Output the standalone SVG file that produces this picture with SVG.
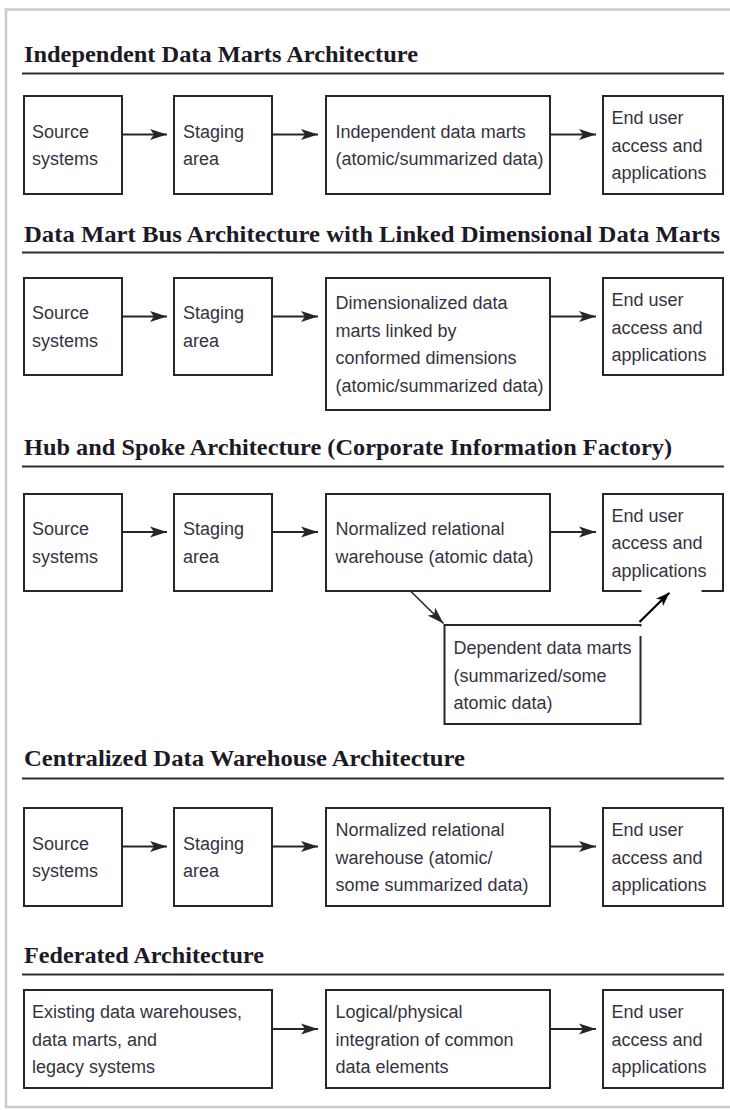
<svg xmlns="http://www.w3.org/2000/svg" width="730" height="1110" viewBox="0 0 730 1110">
<defs>
<style>
.title{font-family:"Liberation Serif","Times New Roman",serif;font-weight:bold;font-size:23px;fill:#1c1a26}
.rule{stroke:#2e2e2e;stroke-width:2}
.box{fill:#fff;stroke:#262626;stroke-width:2}
.lbl{font-family:"Liberation Sans",Arial,sans-serif;font-size:18px;fill:#363241}
.arr{stroke:#262626;stroke-width:2;fill:none;marker-end:url(#ah)}
.arr2{stroke:#000;stroke-width:2.2;fill:none;marker-end:url(#ah2)}
</style>
<marker id="ah" markerUnits="userSpaceOnUse" markerWidth="18" markerHeight="12" refX="17" refY="6" orient="auto">
<path d="M0,0.5 L17,6 L0,11.5 L4,6 Z" fill="#262626"/>
</marker>
<marker id="ah2" markerUnits="userSpaceOnUse" markerWidth="15" markerHeight="11" refX="14" refY="5.5" orient="auto">
<path d="M0,0.5 L14,5.5 L0,10.5 L3.5,5.5 Z" fill="#000"/>
</marker>
</defs>
<rect x="0" y="0" width="730" height="1110" fill="#fff"/>
<rect x="6" y="9.5" width="740" height="1097.5" fill="none" stroke="#cacaca" stroke-width="2.5"/>

<g id="titles">
<text class="title" x="24" y="62" textLength="394" lengthAdjust="spacingAndGlyphs">Independent Data Marts Architecture</text>
<line class="rule" x1="22" y1="73.5" x2="724" y2="73.5"/>
<text class="title" x="24" y="242" textLength="696" lengthAdjust="spacingAndGlyphs">Data Mart Bus Architecture with Linked Dimensional Data Marts</text>
<line class="rule" x1="22" y1="252.5" x2="724" y2="252.5"/>
<text class="title" x="24" y="454.5" textLength="648" lengthAdjust="spacingAndGlyphs">Hub and Spoke Architecture (Corporate Information Factory)</text>
<line class="rule" x1="22" y1="466.5" x2="724" y2="466.5"/>
<text class="title" x="24" y="765.5" textLength="441" lengthAdjust="spacingAndGlyphs">Centralized Data Warehouse Architecture</text>
<line class="rule" x1="22" y1="778.5" x2="724" y2="778.5"/>
<text class="title" x="24" y="962.5" textLength="240" lengthAdjust="spacingAndGlyphs">Federated Architecture</text>
<line class="rule" x1="22" y1="974.5" x2="724" y2="974.5"/>
</g>

<g id="connectors">
<line class="arr" x1="122" y1="134.5" x2="167" y2="134.5"/>
<line class="arr" x1="272" y1="134.5" x2="318" y2="134.5"/>
<line class="arr" x1="550" y1="134.5" x2="596" y2="134.5"/>

<line class="arr" x1="122" y1="316.5" x2="167" y2="316.5"/>
<line class="arr" x1="272" y1="316.5" x2="318" y2="316.5"/>
<line class="arr" x1="550" y1="316.5" x2="596" y2="316.5"/>

<line class="arr" x1="122" y1="532" x2="167" y2="532"/>
<line class="arr" x1="272" y1="532" x2="318" y2="532"/>
<line class="arr" x1="550" y1="532" x2="596" y2="532"/>
<line class="arr" x1="411" y1="591.5" x2="443.5" y2="623.5" style="stroke-width:1.6"/>
<line class="arr2" x1="639.5" y1="622" x2="669.5" y2="592.5"/>

<line class="arr" x1="122" y1="846.5" x2="167" y2="846.5"/>
<line class="arr" x1="272" y1="846.5" x2="318" y2="846.5"/>
<line class="arr" x1="550" y1="846.5" x2="596" y2="846.5"/>

<line class="arr" x1="272" y1="1029" x2="318" y2="1029"/>
<line class="arr" x1="550" y1="1029" x2="596" y2="1029"/>
</g>

<g id="r1-source"><rect class="box" x="24" y="96" width="98" height="98"/>
<text class="lbl" x="32" y="137.8">Source</text><text class="lbl" x="32" y="165.3">systems</text></g>
<g id="r1-staging"><rect class="box" x="174" y="96" width="98" height="98"/>
<text class="lbl" x="183" y="137.8">Staging</text><text class="lbl" x="183" y="165.3">area</text></g>
<g id="r1-marts"><rect class="box" x="326" y="96" width="224" height="98"/>
<text class="lbl" x="335.5" y="137.8">Independent data marts</text><text class="lbl" x="335.5" y="165.3">(atomic/summarized data)</text></g>
<g id="r1-enduser"><rect class="box" x="603" y="96" width="120" height="98"/>
<text class="lbl" x="611.5" y="124">End user</text><text class="lbl" x="611.5" y="151.5">access and</text><text class="lbl" x="611.5" y="179">applications</text></g>

<g id="r2-source"><rect class="box" x="24" y="278" width="98" height="97"/>
<text class="lbl" x="32" y="319.3">Source</text><text class="lbl" x="32" y="346.8">systems</text></g>
<g id="r2-staging"><rect class="box" x="174" y="278" width="98" height="97"/>
<text class="lbl" x="183" y="319.3">Staging</text><text class="lbl" x="183" y="346.8">area</text></g>
<g id="r2-marts"><rect class="box" x="326" y="278" width="224" height="132"/>
<text class="lbl" x="335.5" y="309">Dimensionalized data</text><text class="lbl" x="335.5" y="336.5">marts linked by</text><text class="lbl" x="335.5" y="364">conformed dimensions</text><text class="lbl" x="335.5" y="391.5">(atomic/summarized data)</text></g>
<g id="r2-enduser"><rect class="box" x="603" y="278" width="120" height="97"/>
<text class="lbl" x="611.5" y="306">End user</text><text class="lbl" x="611.5" y="333.5">access and</text><text class="lbl" x="611.5" y="361">applications</text></g>

<g id="r3-source"><rect class="box" x="24" y="494" width="98" height="97"/>
<text class="lbl" x="32" y="535.3">Source</text><text class="lbl" x="32" y="562.8">systems</text></g>
<g id="r3-staging"><rect class="box" x="174" y="494" width="98" height="97"/>
<text class="lbl" x="183" y="535.3">Staging</text><text class="lbl" x="183" y="562.8">area</text></g>
<g id="r3-warehouse"><rect class="box" x="326" y="494" width="224" height="97"/>
<text class="lbl" x="335.5" y="535.3">Normalized relational</text><text class="lbl" x="335.5" y="562.8">warehouse (atomic data)</text></g>
<g id="r3-enduser"><rect class="box" x="603" y="494" width="120" height="97"/>
<line x1="641.5" y1="591" x2="701.5" y2="591" stroke="#fff" stroke-width="3"/>
<text class="lbl" x="611.5" y="521.5">End user</text><text class="lbl" x="611.5" y="549">access and</text><text class="lbl" x="611.5" y="576.5">applications</text></g>
<g id="r3-dependent"><rect class="box" x="444.5" y="625" width="196" height="99"/>
<line x1="640.5" y1="626.5" x2="640.5" y2="636" stroke="#fff" stroke-width="3"/>
<text class="lbl" x="453.5" y="654">Dependent data marts</text><text class="lbl" x="453.5" y="681.5">(summarized/some</text><text class="lbl" x="453.5" y="709">atomic data)</text></g>

<g id="r4-source"><rect class="box" x="24" y="808" width="98" height="98"/>
<text class="lbl" x="32" y="849.8">Source</text><text class="lbl" x="32" y="877.3">systems</text></g>
<g id="r4-staging"><rect class="box" x="174" y="808" width="98" height="98"/>
<text class="lbl" x="183" y="849.8">Staging</text><text class="lbl" x="183" y="877.3">area</text></g>
<g id="r4-warehouse"><rect class="box" x="326" y="808" width="224" height="98"/>
<text class="lbl" x="335.5" y="836">Normalized relational</text><text class="lbl" x="335.5" y="863.5">warehouse (atomic/</text><text class="lbl" x="335.5" y="891">some summarized data)</text></g>
<g id="r4-enduser"><rect class="box" x="603" y="808" width="120" height="98"/>
<text class="lbl" x="611.5" y="836">End user</text><text class="lbl" x="611.5" y="863.5">access and</text><text class="lbl" x="611.5" y="891">applications</text></g>

<g id="r5-existing"><rect class="box" x="24" y="990" width="248" height="98"/>
<text class="lbl" x="32" y="1018">Existing data warehouses,</text><text class="lbl" x="32" y="1045.5">data marts, and</text><text class="lbl" x="32" y="1073">legacy systems</text></g>
<g id="r5-integration"><rect class="box" x="326" y="990" width="224" height="98"/>
<text class="lbl" x="335.5" y="1018">Logical/physical</text><text class="lbl" x="335.5" y="1045.5">integration of common</text><text class="lbl" x="335.5" y="1073">data elements</text></g>
<g id="r5-enduser"><rect class="box" x="603" y="990" width="120" height="98"/>
<text class="lbl" x="611.5" y="1018">End user</text><text class="lbl" x="611.5" y="1045.5">access and</text><text class="lbl" x="611.5" y="1073">applications</text></g>
</svg>
